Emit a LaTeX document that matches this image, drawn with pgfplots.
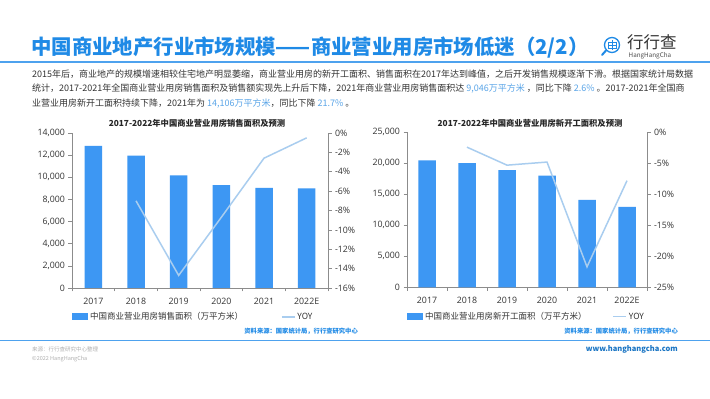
\documentclass[border=0pt]{standalone}
\usepackage{pgfplots}
\pgfplotsset{compat=1.18}
\usepackage{fontspec}
\setmainfont{Noto Sans CJK SC}
\newfontfamily\ticks{Open Sans}
\definecolor{barblue}{HTML}{3D97F3}
\definecolor{lineblue}{HTML}{A9CDEF}
\definecolor{titleblue}{HTML}{1F8AE6}
\definecolor{hl}{HTML}{5AA5E8}
\definecolor{txt}{HTML}{333333}
\definecolor{axgray}{HTML}{8C8C8C}
\definecolor{rulec}{HTML}{4EA2EE}
\definecolor{foot}{HTML}{B0B0B0}

\pgfplotsset{
 baraxis/.style={
  scale only axis, width=#1, height=155pt,
  xmin=-0.5, xmax=5.5, ymin=0,
  axis x line*=bottom, axis y line*=left,
  axis line style={axgray, line width=0.6pt},
  xtick={-0.5,0.5,...,5.5}, xticklabels={},
  extra x ticks={0,1,2,3,4,5},
  extra x tick labels={2017,2018,2019,2020,2021,2022E},
  extra x tick style={major tick length=0pt},
  xticklabel style={yshift=-6.5pt},
  scaled y ticks=false,
  tick align=outside, major tick length=3.5pt,
  tick style={axgray, line width=0.6pt},
  tick label style={font=\ticks\fontsize{8.8}{10}\selectfont, text=txt},
  ybar, bar width=17.5pt,
  clip=false,
 },
 lineaxis/.style={
  scale only axis, width=#1, height=155pt,
  xmin=-0.5, xmax=5.5,
  axis x line=none, axis y line*=right,
  axis line style={axgray, line width=0.6pt},
  tick align=outside, major tick length=3.5pt,
  tick style={axgray, line width=0.6pt},
  tick label style={font=\ticks\fontsize{8.8}{10}\selectfont, text=txt},
  clip=false,
 },
}

\begin{document}
\begin{tikzpicture}
\fill[white] (0pt,0pt) rectangle (710pt,399pt);
\path[use as bounding box] (0pt,0pt) rectangle (710pt,399pt);

% title
\node[anchor=west, inner sep=0pt, text=titleblue, font=\fontsize{20.4}{24}\selectfont\bfseries] at (31pt,351pt) {中国商业地产行业市场规模——商业营业用房市场低迷（2/2）};
\draw[rulec, line width=1.8pt] (0pt,337pt) -- (710pt,337pt);

% logo
\draw[titleblue, line width=1.3pt] (612pt,354pt) circle (7.5pt);
\draw[titleblue, line width=0.8pt] (608pt,351pt) rectangle (616pt,357pt);
\draw[titleblue, line width=0.8pt] (612pt,349pt) -- (612pt,359pt) (608pt,354pt) -- (616pt,354pt);
\draw[titleblue, line width=2pt, line cap=round] (606pt,348.5pt) -- (602pt,344pt);
\node[anchor=west, inner sep=0pt, text=black!80, font=\fontsize{16.5}{18}\selectfont] at (627pt,357pt) {行行查};
\node[anchor=west, inner sep=0pt, text=black!70, font=\fontsize{6.3}{7}\selectfont] at (628.5pt,343.5pt) {HangHangCha};

% paragraph
\begin{scope}[every node/.style={anchor=west, inner sep=0pt, text=txt, font=\fontsize{9}{11}\selectfont}]
\node at (32pt,325pt) {2015年后，商业地产的规模增速相较住宅地产明显萎缩，商业营业用房的新开工面积、销售面积在2017年达到峰值，之后开发销售规模逐渐下滑。根据国家统计局数据};
\node at (32pt,310pt) {统计，2017-2021年全国商业营业用房销售面积及销售额实现先上升后下降，2021年商业营业用房销售面积达 \textcolor{hl}{9,046万平方米} ，同比下降 \textcolor{hl}{2.6\%} 。2017-2021年全国商};
\node at (32pt,295pt) {业营业用房新开工面积持续下降，2021年为 \textcolor{hl}{14,106万平方米}，同比下降 \textcolor{hl}{21.7\%} 。};
\end{scope}

% chart titles
\node[font=\fontsize{8.3}{10}\selectfont\bfseries, text=black!85] at (197pt,276pt) {2017-2022年中国商业营业用房销售面积及预测};
\node[font=\fontsize{8.3}{10}\selectfont\bfseries, text=black!85] at (530pt,276pt) {2017-2022年中国商业营业用房新开工面积及预测};

% left chart
\begin{axis}[baraxis=256pt, at={(72pt,111pt)}, anchor=south west,
  ymax=14000, ytick={0,2000,...,14000},
  yticklabels={0,{2,000},{4,000},{6,000},{8,000},{10,000},{12,000},{14,000}},
  legend columns=2, legend cell align=left,
  legend style={at={(0,-0.187)}, anchor=west, draw=none, fill=none, inner sep=0pt,
    font=\fontsize{8.5}{10}\selectfont, text=txt,
    /tikz/every even column/.append style={column sep=36pt}}]
\addplot[fill=barblue, draw=none, legend image code/.code={\fill[barblue] (0pt,-3.5pt) rectangle (16pt,3.5pt);}]
  coordinates {(0,12840) (1,11950) (2,10170) (3,9290) (4,9046) (5,8990)};
\addlegendentry{中国商业营业用房销售面积（万平方米）}
\addlegendimage{legend image code/.code={\draw[lineblue, line width=1.2pt] (0pt,0pt) -- (13pt,0pt);}}
\addlegendentry{YOY}
\end{axis}
\begin{axis}[lineaxis=256pt, at={(72pt,111pt)}, anchor=south west,
  ymin=-16, ymax=0, ytick={-16,-14,...,0},
  yticklabels={-16\%,-14\%,-12\%,-10\%,-8\%,-6\%,-4\%,-2\%,0\%}]
\addplot[lineblue, line width=1.5pt] coordinates {(1,-7.0) (2,-14.7) (3,-8.7) (4,-2.6) (5,-0.5)};
\end{axis}

% right chart
\begin{axis}[baraxis=240pt, at={(407pt,111.7pt)}, anchor=south west,
  ymax=25000, ytick={0,5000,...,25000},
  yticklabels={0,{5,000},{10,000},{15,000},{20,000},{25,000}},
  legend columns=2, legend cell align=left,
  legend style={at={(0,-0.19)}, anchor=west, draw=none, fill=none, inner sep=0pt,
    font=\fontsize{8.5}{10}\selectfont, text=txt,
    /tikz/every even column/.append style={column sep=24pt}}]
\addplot[fill=barblue, draw=none, legend image code/.code={\fill[barblue] (0pt,-3.5pt) rectangle (16pt,3.5pt);}]
  coordinates {(0,20460) (1,20040) (2,18910) (3,18000) (4,14106) (5,12990)};
\addlegendentry{中国商业营业用房新开工面积（万平方米）}
\addlegendimage{legend image code/.code={\draw[lineblue, line width=1.2pt] (0pt,0pt) -- (13pt,0pt);}}
\addlegendentry{YOY}
\end{axis}
\begin{axis}[lineaxis=240pt, at={(407pt,111.7pt)}, anchor=south west,
  ymin=-25, ymax=0, ytick={-25,-20,...,0},
  yticklabels={-25\%,-20\%,-15\%,-10\%,-5\%,0\%}]
\addplot[lineblue, line width=1.5pt] coordinates {(1,-2.4) (2,-5.3) (3,-4.8) (4,-21.7) (5,-7.8)};
\end{axis}

% sources
\node[anchor=east, inner sep=0pt, text=titleblue, font=\fontsize{6.3}{7}\selectfont\bfseries] at (358pt,68pt) {资料来源：国家统计局，行行查研究中心};
\node[anchor=east, inner sep=0pt, text=titleblue, font=\fontsize{6.3}{7}\selectfont\bfseries] at (678pt,68pt) {资料来源：国家统计局，行行查研究中心};
\draw[rulec, line width=1.8pt] (0pt,58.5pt) -- (710pt,58.5pt);

% footer
\node[anchor=west, inner sep=0pt, text=foot, font=\fontsize{5.5}{6}\selectfont] at (32pt,50pt) {来源：行行查研究中心整理};
\node[anchor=west, inner sep=0pt, text=foot, font=\fontsize{5.5}{6}\selectfont] at (32pt,40pt) {©2022 HangHangCha};
\node[anchor=east, inner sep=0pt, text=titleblue!85!black, font=\fontsize{7.5}{8}\selectfont\bfseries] at (678pt,49.5pt) {www.hanghangcha.com};
\end{tikzpicture}
\end{document}
